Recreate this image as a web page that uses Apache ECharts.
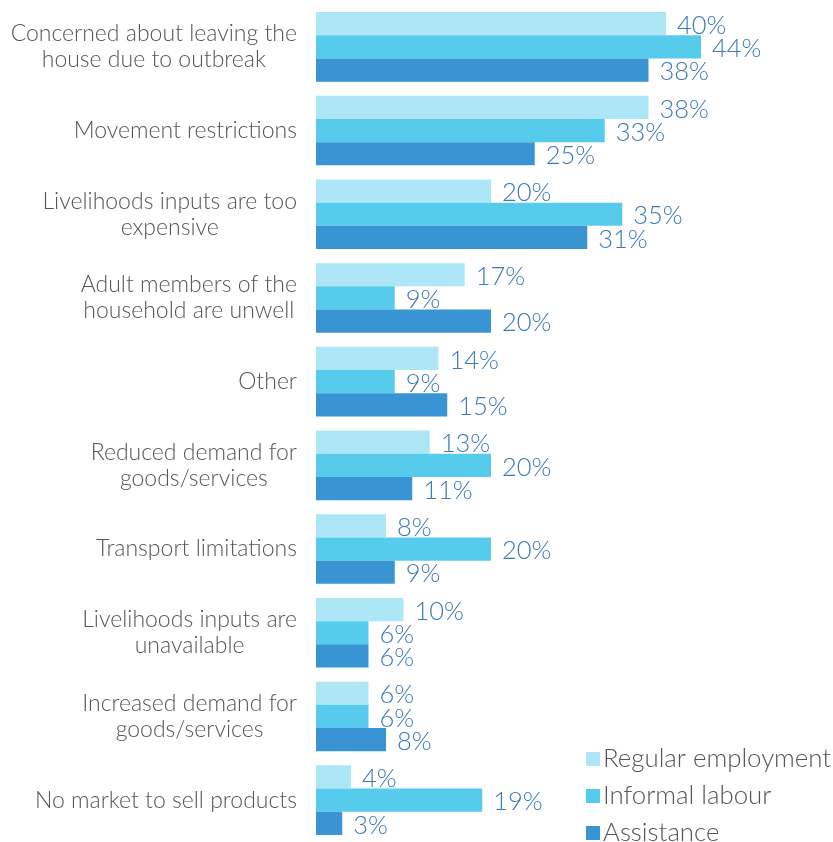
<!DOCTYPE html>
<html>
<head>
<meta charset="utf-8">
<script src="https://cdn.jsdelivr.net/npm/echarts@6/dist/echarts.min.js"></script>
<style>
  html, body { margin: 0; padding: 0; background: #ffffff; }
  #chart { width: 833px; height: 842px; }
</style>
</head>
<body>
<div id="chart"></div>
<script>
// Reasons households could not carry out livelihood activities, by income source (%)
const categories = [
  'Concerned about leaving the\nhouse due to outbreak',
  'Movement restrictions',
  'Livelihoods inputs are too\nexpensive',
  'Adult members of the\nhousehold are unwell',
  'Other',
  'Reduced demand for\ngoods/services',
  'Transport limitations',
  'Livelihoods inputs are\nunavailable',
  'Increased demand for\ngoods/services',
  'No market to sell products'
];
const regularEmployment = [40, 38, 20, 17, 14, 13, 8, 10, 6, 4];
const informalLabour    = [44, 33, 35, 9, 9, 20, 20, 6, 6, 19];
const assistance        = [38, 25, 31, 20, 15, 11, 9, 6, 8, 3];

const seriesNames = ['Regular employment', 'Informal labour', 'Assistance'];
const seriesColors = ['#ade6f6', '#57cbec', '#3894d3'];

const FONT = 'Lato';
const WEIGHT = 300;
const valueColor = '#3b79b7';
const textColor = '#555555';

function makeSeries(name, data, color) {
  return {
    name: name,
    type: 'bar',
    data: data,
    barWidth: 23.2,
    barGap: '0%',
    itemStyle: { color: color },
    label: {
      show: true,
      position: 'right',
      distance: 11,
      offset: [0, 2],
      formatter: '{c}%',
      color: valueColor,
      fontFamily: FONT,
      fontWeight: WEIGHT,
      fontSize: 25.5
    }
  };
}

const chart = echarts.init(document.getElementById('chart'));
chart.setOption({
  backgroundColor: '#ffffff',
  animation: false,
  textStyle: { fontFamily: FONT },
  grid: { left: 316, top: 5, width: 437.5, height: 846, containLabel: false },
  legend: {
    orient: 'vertical',
    left: 586,
    top: 746,
    height: 130,
    padding: 0,
    itemWidth: 14,
    itemHeight: 14,
    itemGap: 11,
    icon: 'rect',
    textStyle: { color: textColor, fontSize: 25.8, lineHeight: 25, fontFamily: FONT, fontWeight: WEIGHT, padding: [0, 0, 0, -2] },
    data: seriesNames
  },
  xAxis: {
    type: 'value',
    min: 0,
    max: 50,
    show: false,
    splitLine: { show: false }
  },
  yAxis: {
    type: 'category',
    data: categories,
    inverse: true,
    axisLine: { show: false },
    axisTick: { show: false },
    axisLabel: {
      margin: 19,
      color: textColor,
      fontFamily: FONT,
      fontWeight: WEIGHT,
      fontSize: 23,
      lineHeight: 26,
      formatter: function (v) {
        return v.split('\n').map(function (l) { return '{c|' + l + '}'; }).join('\n');
      },
      rich: {
        c: { align: 'center', color: textColor, fontFamily: FONT, fontWeight: WEIGHT, fontSize: 23, lineHeight: 26 }
      }
    }
  },
  series: [
    makeSeries(seriesNames[0], regularEmployment, seriesColors[0]),
    makeSeries(seriesNames[1], informalLabour, seriesColors[1]),
    makeSeries(seriesNames[2], assistance, seriesColors[2])
  ]
});
</script>
</body>
</html>
